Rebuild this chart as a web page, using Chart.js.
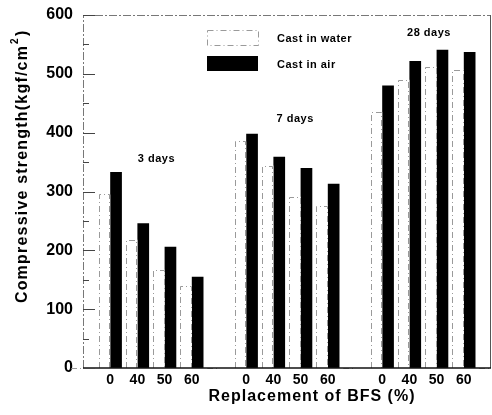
<!DOCTYPE html>
<html>
<head>
<meta charset="utf-8">
<script src="https://cdn.jsdelivr.net/npm/chart.js@4.4.0/dist/chart.umd.min.js"></script>
<style>
  html, body { margin: 0; padding: 0; background: #fff; }
  #wrap { width: 492px; height: 415px; }
</style>
</head>
<body>
<div id="wrap"><canvas id="chart"></canvas></div>
<script>
// curing ages and BFS replacement levels (%)
const ages = ["3 days", "7 days", "28 days"];
const replacement = ["0", "40", "50", "60"];

// compressive strength, kgf/cm2
const water3 = [295, 218, 167, 140];
const water7 = [385, 344, 291, 276];
const water28 = [435, 490, 512, 507];
const air3 = [333, 246, 206, 155];
const air7 = [398, 359, 340, 313];
const air28 = [480, 522, 541, 537];

const yTicks = [0, 100, 200, 300, 400, 500, 600];

// where the age label sits (value on y axis)
const ageLabelY = [355, 423, 570];

// one blank slot before, between and after the groups
function spaced(groups) {
  const out = [null];
  groups.forEach((g) => { out.push(...g, null); });
  return out;
}
const labels = spaced([replacement, replacement, replacement]).map((v) => v ?? "");
const waterData = spaced([water3, water7, water28]);
const airData = spaced([air3, air7, air28]);

const FONT = "'Liberation Sans', Arial, sans-serif";

const decor = {
  id: "decor",
  afterDatasetsDraw(chart) {
    const { ctx, chartArea: a, scales } = chart;
    const y = scales.y;
    ctx.save();

    // dashed faint outlines for the "cast in water" bars
    ctx.strokeStyle = "#9a9a9a";
    ctx.lineWidth = 1;
    ctx.setLineDash([6, 3, 1, 3]);
    chart.getDatasetMeta(0).data.forEach((bar) => {
      if (bar.skip || isNaN(bar.y)) return;
      const l = Math.round(bar.x - bar.width / 2) + 0.5;
      const r = Math.round(bar.x + bar.width / 2) - 0.5;
      const t = Math.round(bar.y) + 0.5;
      ctx.beginPath();
      ctx.moveTo(l, a.bottom);
      ctx.lineTo(l, t);
      ctx.lineTo(r, t);
      ctx.lineTo(r, a.bottom);
      ctx.stroke();
    });

    // frame: faint dashed left/top, solid right and bottom
    ctx.strokeStyle = "#777";
    ctx.setLineDash([8, 2, 2, 2]);
    ctx.beginPath();
    ctx.moveTo(a.left + 0.5, a.bottom);
    ctx.lineTo(a.left + 0.5, a.top + 0.5);
    ctx.lineTo(a.right - 0.5, a.top + 0.5);
    ctx.stroke();
    ctx.setLineDash([]);
    ctx.strokeStyle = "#555";
    ctx.beginPath();
    ctx.moveTo(a.right - 0.5, a.top);
    ctx.lineTo(a.right - 0.5, a.bottom);
    ctx.stroke();
    ctx.strokeStyle = "#111";
    ctx.lineWidth = 1.5;
    ctx.beginPath();
    ctx.moveTo(a.left, a.bottom);
    ctx.lineTo(a.right, a.bottom);
    ctx.stroke();

    // inward ticks on y axis, minor every 50
    ctx.lineWidth = 1;
    ctx.strokeStyle = "#444";
    for (let v = 0; v <= 600; v += 50) {
      const py = Math.round(y.getPixelForValue(v)) + 0.5;
      const len = v % 100 === 0 ? 12 : 6;
      ctx.beginPath();
      ctx.moveTo(a.left, py);
      ctx.lineTo(a.left + len, py);
      ctx.stroke();
    }

    // age labels above each group
    const x = scales.x;
    ctx.fillStyle = "#000";
    ctx.font = "bold 11px " + FONT;
    ctx.textAlign = "center";
    ctx.textBaseline = "middle";
    ctx.letterSpacing = "0.5px";
    const shift = [0.2, 0.3, 0.22];
    ages.forEach((age, i) => {
      const center = 1 + i * 5 + 1.5 + shift[i];
      ctx.fillText(age, x.getPixelForValue(center), y.getPixelForValue(ageLabelY[i]));
    });

    // legend
    const ds = chart.data.datasets;
    const bx = 207, bw = 51, bh = 15;
    const rows = [30, 56];
    ctx.textAlign = "left";
    ds.forEach((d, i) => {
      const top = rows[i];
      if (i === 0) {
        ctx.strokeStyle = "#9a9a9a";
        ctx.setLineDash([6, 3, 1, 3]);
        ctx.strokeRect(bx + 0.5, top + 0.5, bw, bh);
        ctx.setLineDash([]);
      } else {
        ctx.fillStyle = d.backgroundColor;
        ctx.fillRect(bx, top, bw, bh);
      }
      ctx.fillStyle = "#000";
      ctx.fillText(d.label, 277, top + bh / 2 + 1);
    });

    // axis titles
    ctx.font = "bold 16px " + FONT;
    ctx.letterSpacing = "1px";
    ctx.textAlign = "center";
    ctx.fillText("Replacement of BFS (%)", 312, 397);

    ctx.translate(23, 166);
    ctx.rotate(-Math.PI / 2);
    ctx.font = "bold 16px " + FONT;
    ctx.letterSpacing = "1.2px";
    const main = "Compressive strength(kgf/cm";
    const w = ctx.measureText(main).width;
    const x0 = -w / 2 - 8;
    ctx.textAlign = "left";
    ctx.fillText(main, x0, 0);
    ctx.font = "bold 10px " + FONT;
    ctx.letterSpacing = "0px";
    ctx.fillText("2", x0 + w + 1, -8);
    ctx.font = "bold 16px " + FONT;
    ctx.fillText(")", x0 + w + 9, 0);

    ctx.restore();
  },
};

new Chart(document.getElementById("chart"), {
  type: "bar",
  data: {
    labels: labels,
    datasets: [
      {
        label: "Cast in water",
        data: waterData,
        backgroundColor: "#ffffff",
        borderWidth: 0,
      },
      {
        label: "Cast in air",
        data: airData,
        backgroundColor: "#000000",
        borderWidth: 0,
      },
    ],
  },
  options: {
    responsive: true,
    maintainAspectRatio: false,
    animation: false,
    layout: { padding: { top: 15, right: 1, left: 0, bottom: 0 } },
    plugins: {
      legend: { display: false },
      tooltip: { enabled: false },
    },
    datasets: {
      bar: { categoryPercentage: 0.86, barPercentage: 1.0 },
    },
    scales: {
      x: {
        offset: false,
        grid: { display: false, drawTicks: false },
        border: { display: false },
        ticks: {
          autoSkip: false,
          maxRotation: 0,
          padding: 4,
          color: "#000",
          font: { family: FONT, size: 14, weight: "bold" },
        },
        afterFit: (s) => {
          s.height = 47;
          s.paddingLeft = 0;
          s.paddingRight = 0;
        },
      },
      y: {
        min: 0,
        max: 600,
        grid: { display: false, drawTicks: false },
        border: { display: false },
        afterBuildTicks: (s) => { s.ticks = yTicks.map((v) => ({ value: v })); },
        ticks: {
          padding: 10,
          color: "#000",
          font: { family: FONT, size: 16, weight: "bold" },
        },
        afterFit: (s) => {
          s.width = 83;
          s.paddingTop = 0;
          s.paddingBottom = 0;
        },
      },
    },
  },
  plugins: [decor],
});
</script>
</body>
</html>
